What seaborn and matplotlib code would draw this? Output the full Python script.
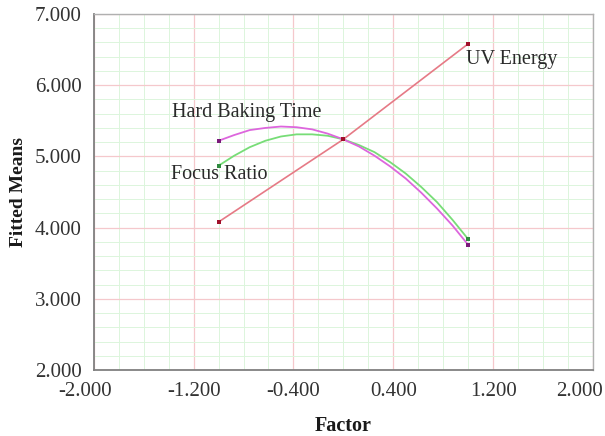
import numpy as np
import pandas as pd
import matplotlib
matplotlib.use("Agg")
import matplotlib.pyplot as plt
import matplotlib.transforms as mtransforms
import seaborn as sns
from matplotlib.ticker import MultipleLocator

# Data
factor_levels = [-1.0, -0.875, -0.75, -0.625, -0.5, -0.375, -0.25, -0.125, 0.0,
                 0.125, 0.25, 0.375, 0.5, 0.625, 0.75, 0.875, 1.0]
hard_baking = [5.22, 5.30, 5.37, 5.40, 5.42, 5.41, 5.38, 5.32, 5.24,
               5.14, 5.01, 4.86, 4.69, 4.49, 4.27, 4.03, 3.76]
focus_ratio = [4.87, 5.01, 5.13, 5.22, 5.28, 5.31, 5.31, 5.29, 5.24,
               5.16, 5.06, 4.92, 4.76, 4.57, 4.36, 4.11, 3.84]
uv_levels = [-1.0, 0.0, 1.0]
uv_energy = [4.08, 5.24, 6.58]
marker_levels = [-1.0, 0.0, 1.0]
hard_marks = [5.22, 5.24, 3.76]
focus_marks = [4.87, 5.24, 3.84]

x_ticks = [-2.0, -1.2, -0.4, 0.4, 1.2, 2.0]
y_ticks = [2.0, 3.0, 4.0, 5.0, 6.0, 7.0]

sns.set_style("white")
plt.rcParams['font.family'] = ['Liberation Serif', 'DejaVu Serif']

fig = plt.figure(figsize=(6.05, 4.36), dpi=100)
ax = fig.add_axes([0.155, 0.151, 0.825, 0.817])

# grids
ax.xaxis.set_minor_locator(MultipleLocator(0.2))
ax.yaxis.set_minor_locator(MultipleLocator(0.2))
ax.grid(which='minor', color='#dcf5dc', linewidth=0.7)
ax.grid(which='major', color='#f5c8cc', linewidth=0.9)
ax.set_axisbelow(True)

df_h = pd.DataFrame({'x': factor_levels, 'y': hard_baking})
df_f = pd.DataFrame({'x': factor_levels, 'y': focus_ratio})
df_u = pd.DataFrame({'x': uv_levels, 'y': uv_energy})

sns.lineplot(data=df_f, x='x', y='y', ax=ax, color='#77dd77', linewidth=1.3, sort=True)
sns.lineplot(data=df_h, x='x', y='y', ax=ax, color='#dd66dd', linewidth=1.3, sort=True)
sns.lineplot(data=df_u, x='x', y='y', ax=ax, color='#e67a86', linewidth=1.2, sort=True)

sns.scatterplot(x=marker_levels, y=focus_marks, ax=ax, color='#2e8b3e', marker='s', s=10, linewidth=0, zorder=5)
sns.scatterplot(x=marker_levels, y=hard_marks, ax=ax, color='#7a1a7a', marker='s', s=10, linewidth=0, zorder=5)
sns.scatterplot(x=uv_levels, y=uv_energy, ax=ax, color='#a0102a', marker='s', s=10, linewidth=0, zorder=5)

ax.text(-1.375, 5.61, 'Hard Baking Time', fontsize=14.5, color='#2a2a2a', va='center', ha='left')
ax.text(-1.38, 4.74, 'Focus Ratio', fontsize=14.5, color='#2a2a2a', va='center', ha='left')
ax.text(0.98, 6.36, 'UV Energy', fontsize=14.5, color='#2a2a2a', va='center', ha='left')

ax.set_xlim(-2.0, 2.0)
ax.set_ylim(2.0, 7.0)
ax.set_xticks(x_ticks)
ax.set_yticks(y_ticks)
ax.set_xticklabels([f'{v:.3f}' for v in x_ticks], fontsize=15, color='#333333')
ax.set_yticklabels([f'{v:.3f}' for v in y_ticks], fontsize=15, color='#333333')
ax.tick_params(axis='x', which='both', length=0, pad=8.5)
ax.tick_params(axis='y', which='both', length=0, pad=8.5)

# shift edge x tick labels inward like the reference
xl = ax.get_xticklabels()
xl[0].set_transform(xl[0].get_transform() + mtransforms.ScaledTranslation(-9 / 100, 0, fig.dpi_scale_trans))
xl[-1].set_transform(xl[-1].get_transform() + mtransforms.ScaledTranslation(-13 / 100, 0, fig.dpi_scale_trans))

ax.set_xlabel('Factor', fontsize=14.5, fontweight='bold', labelpad=11, color='#1a1a1a')
ax.set_ylabel('Fitted Means', fontsize=14, fontweight='bold', labelpad=6, color='#1a1a1a')

for s in ['left', 'bottom']:
    ax.spines[s].set_color('#808080')
    ax.spines[s].set_linewidth(1.3)
for s in ['top', 'right']:
    ax.spines[s].set_color('#b0b0b0')
    ax.spines[s].set_linewidth(1.0)

fig.savefig('out.png', dpi=100, facecolor='white')
